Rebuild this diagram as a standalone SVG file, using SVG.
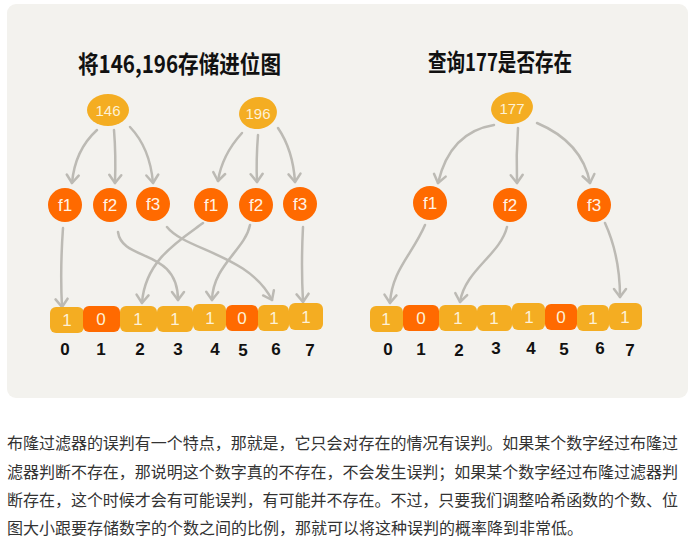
<svg xmlns="http://www.w3.org/2000/svg" width="692" height="551" viewBox="0 0 692 551">
<defs>
<style>
.panel{fill:#f3f2ee}
.title{font-family:"Noto Sans CJK SC","Liberation Sans",sans-serif;font-size:24px;fill:#111;font-weight:bold}
.key{fill:#f4ad22}
.keyt{font-family:"Liberation Sans",sans-serif;font-size:15px;fill:#fdf1d6;text-anchor:middle}
.fn{fill:#ff6a00}
.fnt{font-family:"Liberation Sans",sans-serif;font-size:17px;fill:#fff3e6;text-anchor:middle}
.b1{fill:#f4ad22}
.b0{fill:#ff6a00}
.bt{font-family:"Liberation Sans",sans-serif;font-size:17px;fill:#fdf1d6;text-anchor:middle}
.idx{font-family:"Liberation Sans",sans-serif;font-size:17px;fill:#111;text-anchor:middle;font-weight:bold}
.arr{fill:none;stroke:#bcbab4;stroke-width:2.5;stroke-linecap:round;marker-end:url(#ah)}
.para{font-family:"Noto Sans CJK SC","Liberation Sans",sans-serif;font-size:16px;fill:#333}
</style>
<marker id="ah" markerUnits="userSpaceOnUse" markerWidth="20" markerHeight="20" refX="0" refY="0" viewBox="-10 -10 20 20" orient="auto">
<path d="M-8,-6 L0,0 L-8,6" fill="none" stroke="#bcbab4" stroke-width="2.5" stroke-linecap="round" stroke-linejoin="round"/>
</marker>
</defs>
<rect class="panel" x="7" y="4" width="681" height="394" rx="9"/>
<text class="title" x="78" y="73" textLength="203" lengthAdjust="spacingAndGlyphs">将146,196存储进位图</text>
<text class="title" x="428" y="71" textLength="144" lengthAdjust="spacingAndGlyphs">查询177是否存在</text>

<g id="connectors">
<path class="arr" d="M97,130 Q75,150 72,183"/>
<path class="arr" d="M114,130 Q116,155 115,183"/>
<path class="arr" d="M130,127 Q150,148 153,183"/>
<path class="arr" d="M242,133 Q222,155 218,181"/>
<path class="arr" d="M258,135 Q256,160 257,182"/>
<path class="arr" d="M278,128 Q293,150 295,182"/>
<path class="arr" d="M494,125 Q450,132 438,183"/>
<path class="arr" d="M518,128 Q516,155 517,183"/>
<path class="arr" d="M537,123 Q582,142 590,183"/>
<path class="arr" d="M63,228 Q60,270 62,307"/>
<path class="arr" d="M118,232 C122,262 178,248 178,300"/>
<path class="arr" d="M167,227 C185,250 250,255 272,300"/>
<path class="arr" d="M203,223 C180,240 145,260 142,303"/>
<path class="arr" d="M250,225 C245,250 213,265 212,300"/>
<path class="arr" d="M303,227 Q301,265 303,302"/>
<path class="arr" d="M425,225 C412,255 392,270 390,303"/>
<path class="arr" d="M507,227 C500,255 465,270 460,302"/>
<path class="arr" d="M605,223 C615,245 620,270 620,297"/>
</g>

<g id="k146"><ellipse class="key" cx="108" cy="110" rx="21" ry="16"/><text class="keyt" x="108" y="116">146</text></g>
<g id="k196"><ellipse class="key" cx="258" cy="113" rx="19" ry="16" transform="rotate(-10 258 113)"/><text class="keyt" x="258" y="119">196</text></g>
<g id="k177"><ellipse class="key" cx="512" cy="108" rx="21" ry="16" transform="rotate(-8 512 108)"/><text class="keyt" x="512" y="114">177</text></g>

<g id="a_f1"><circle class="fn" cx="65" cy="205" r="17"/><text class="fnt" x="65" y="211">f1</text></g>
<g id="a_f2"><circle class="fn" cx="110" cy="205" r="17"/><text class="fnt" x="110" y="211">f2</text></g>
<g id="a_f3"><circle class="fn" cx="153" cy="204" r="17"/><text class="fnt" x="153" y="210">f3</text></g>
<g id="b_f1"><circle class="fn" cx="211" cy="205" r="17"/><text class="fnt" x="211" y="211">f1</text></g>
<g id="b_f2"><circle class="fn" cx="256" cy="205" r="17"/><text class="fnt" x="256" y="211">f2</text></g>
<g id="b_f3"><circle class="fn" cx="300" cy="204" r="17"/><text class="fnt" x="300" y="210">f3</text></g>
<g id="c_f1"><circle class="fn" cx="430" cy="203" r="17"/><text class="fnt" x="430" y="209">f1</text></g>
<g id="c_f2"><circle class="fn" cx="510" cy="205" r="17"/><text class="fnt" x="510" y="211">f2</text></g>
<g id="c_f3"><circle class="fn" cx="594" cy="205" r="17"/><text class="fnt" x="594" y="211">f3</text></g>

<g id="bitsL">
<rect class="b1" x="50" y="307" width="34" height="26" rx="6"/><text class="bt" x="67" y="326">1</text>
<rect class="b0" x="83" y="306" width="37" height="26" rx="6"/><text class="bt" x="101" y="325">0</text>
<rect class="b1" x="120" y="306" width="37" height="26" rx="6"/><text class="bt" x="138" y="325">1</text>
<rect class="b1" x="157" y="306" width="36" height="26" rx="6"/><text class="bt" x="175" y="325">1</text>
<rect class="b1" x="193" y="304" width="33" height="27" rx="6"/><text class="bt" x="210" y="324">1</text>
<rect class="b0" x="226" y="305" width="32" height="26" rx="6"/><text class="bt" x="242" y="324">0</text>
<rect class="b1" x="258" y="305" width="31" height="26" rx="6"/><text class="bt" x="274" y="324">1</text>
<rect class="b1" x="289" y="303" width="34" height="27" rx="6"/><text class="bt" x="306" y="323">1</text>
</g>
<g id="idxL">
<text class="idx" x="65" y="355">0</text><text class="idx" x="101" y="355">1</text><text class="idx" x="140" y="355">2</text><text class="idx" x="178" y="355">3</text>
<text class="idx" x="215" y="355">4</text><text class="idx" x="243" y="356">5</text><text class="idx" x="276" y="355">6</text><text class="idx" x="310" y="356">7</text>
</g>

<g id="bitsR">
<rect class="b1" x="370" y="306" width="33" height="26" rx="6"/><text class="bt" x="386" y="325">1</text>
<rect class="b0" x="403" y="305" width="36" height="26" rx="6"/><text class="bt" x="421" y="324">0</text>
<rect class="b1" x="439" y="305" width="38" height="26" rx="6"/><text class="bt" x="458" y="324">1</text>
<rect class="b1" x="477" y="305" width="35" height="26" rx="6"/><text class="bt" x="494" y="324">1</text>
<rect class="b1" x="512" y="303" width="33" height="27" rx="6"/><text class="bt" x="529" y="323">1</text>
<rect class="b0" x="545" y="304" width="32" height="26" rx="6"/><text class="bt" x="561" y="323">0</text>
<rect class="b1" x="577" y="305" width="32" height="26" rx="6"/><text class="bt" x="593" y="324">1</text>
<rect class="b1" x="609" y="303" width="33" height="27" rx="6"/><text class="bt" x="625" y="323">1</text>
</g>
<g id="idxR">
<text class="idx" x="388" y="355">0</text><text class="idx" x="421" y="355">1</text><text class="idx" x="459" y="356">2</text><text class="idx" x="496" y="354">3</text>
<text class="idx" x="531" y="354">4</text><text class="idx" x="564" y="355">5</text><text class="idx" x="600" y="354">6</text><text class="idx" x="630" y="356">7</text>
</g>

<g id="caption">
<text class="para" x="7" y="449" textLength="671" lengthAdjust="spacing">布隆过滤器的误判有一个特点，那就是，它只会对存在的情况有误判。如果某个数字经过布隆过</text>
<text class="para" x="7" y="478" textLength="671" lengthAdjust="spacing">滤器判断不存在，那说明这个数字真的不存在，不会发生误判；如果某个数字经过布隆过滤器判</text>
<text class="para" x="7" y="506" textLength="671" lengthAdjust="spacing">断存在，这个时候才会有可能误判，有可能并不存在。不过，只要我们调整哈希函数的个数、位</text>
<text class="para" x="7" y="534">图大小跟要存储数字的个数之间的比例，那就可以将这种误判的概率降到非常低。</text>
</g>
</svg>
